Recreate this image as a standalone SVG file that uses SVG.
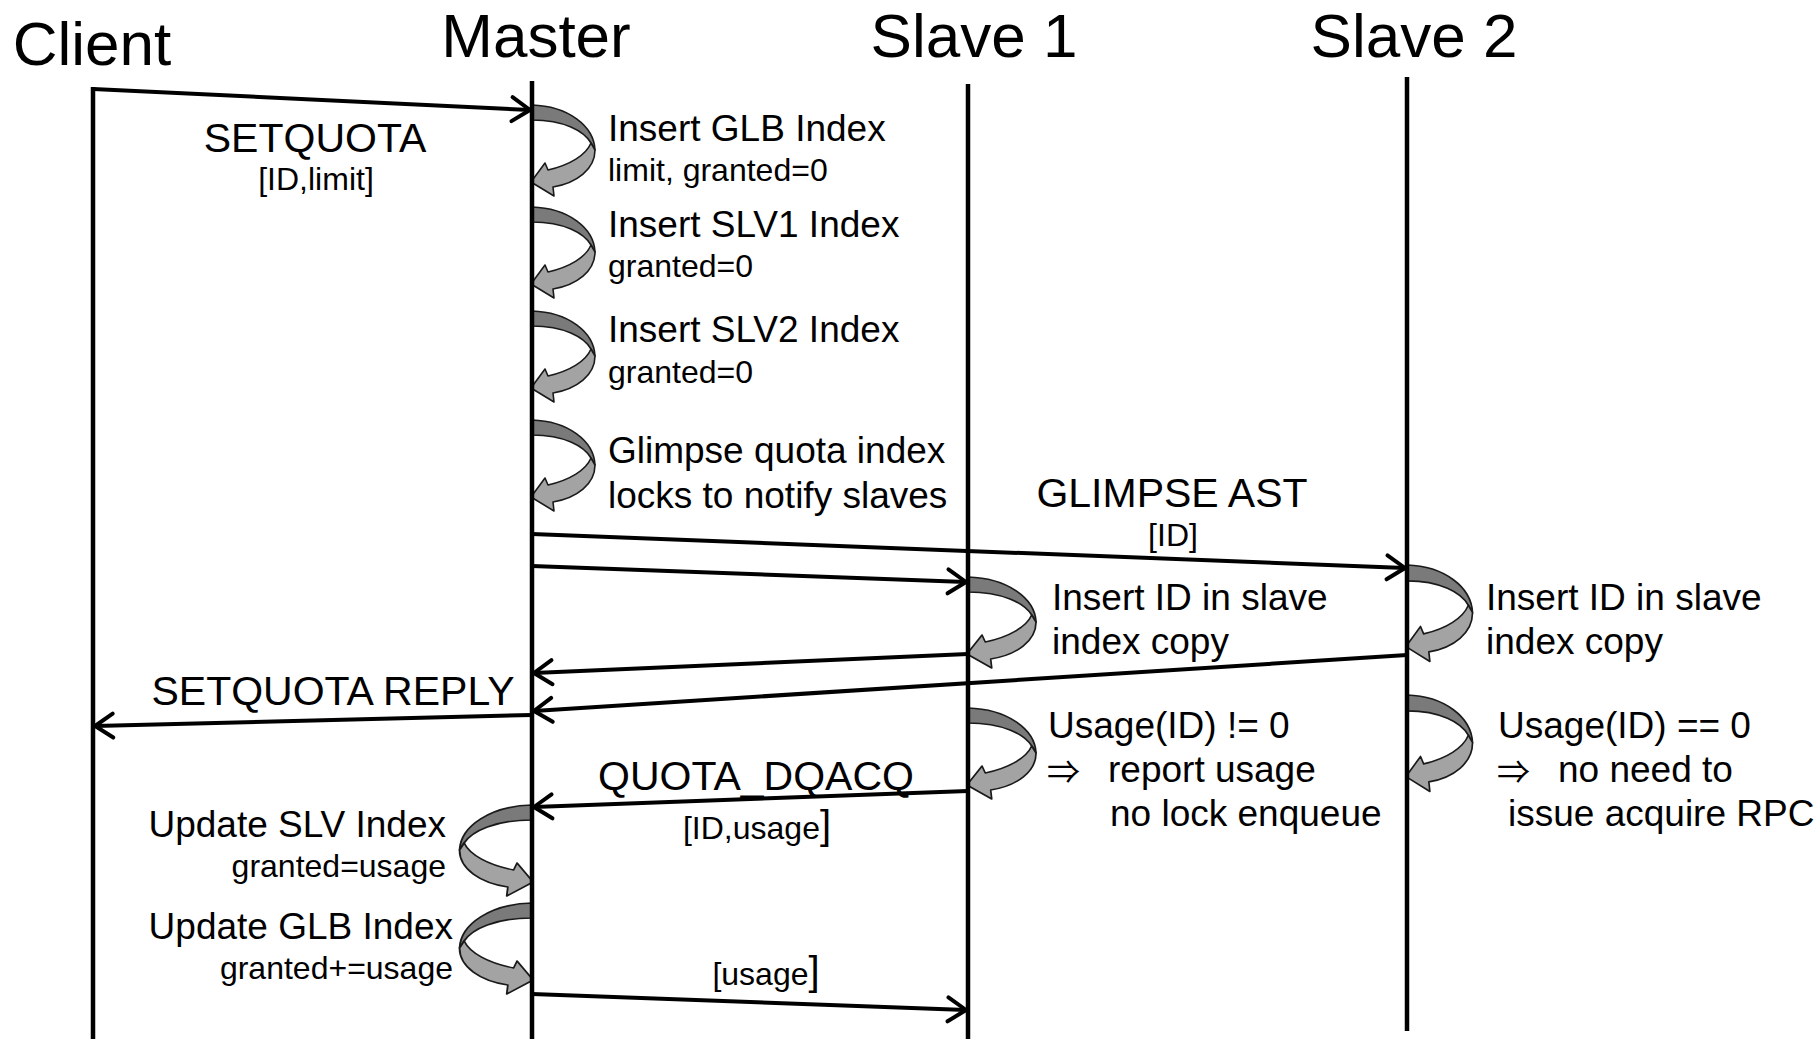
<svg xmlns="http://www.w3.org/2000/svg" width="1820" height="1039" viewBox="0 0 1820 1039">
  <style>
    text { font-family: "Liberation Sans", Arial, "DejaVu Sans", sans-serif; fill: #000; }
    .head { font-size: 62px; text-anchor: middle; }
    .msg { font-size: 41px; text-anchor: middle; }
    .arg { font-size: 32px; text-anchor: middle; }
    .note { font-size: 37px; }
    .sub { font-size: 32px; }
    .end { text-anchor: end; }
    .big { font-size: 40px; }
    .impl { font-family: "Noto Sans CJK JP", "DejaVu Sans", sans-serif; font-size: 33px; }
    .life { stroke: #000; stroke-width: 4.5; fill: none; }
    .call { stroke: #000; stroke-width: 4; fill: none; marker-end: url(#chev); }
    .back { fill: #7a7a7a; stroke: #1a1a1a; stroke-width: 1.6; stroke-linejoin: round; }
    .front { fill: #a3a3a3; stroke: #1a1a1a; stroke-width: 1.6; stroke-linejoin: round; }
  </style>
  <defs>
    <marker id="chev" markerUnits="userSpaceOnUse" markerWidth="30" markerHeight="30" viewBox="-22 -15 26 30" refX="0" refY="0" orient="auto" overflow="visible">
      <path d="M-18,-12 L0,0 L-18,12" fill="none" stroke="#000" stroke-width="4" stroke-linecap="round" stroke-linejoin="miter"/>
    </marker>
    <!-- self-call ribbon arrow: dark back band, lighter front band with head -->
    <g id="selfcall">
      <path class="back" d="M0,0 C36,1 62,21 63,45 L59,38 C52,26 32,15 0,15 Z"/>
      <path class="front" d="M63,45 C63,64 45,78 21,82 L22,91 L-1,77 L13,58 L16,65 C38,60 54,50 59,38 Z"/>
    </g>
  </defs>

  <!-- self-calls -->
  <g id="master-self">
    <use href="#selfcall" transform="translate(532,105)"/>
    <use href="#selfcall" transform="translate(532,207)"/>
    <use href="#selfcall" transform="translate(532,311)"/>
    <use href="#selfcall" transform="translate(532,420)"/>
    <use href="#selfcall" transform="translate(532,805) scale(-1.15,1)"/>
    <use href="#selfcall" transform="translate(532,903) scale(-1.15,1)"/>
  </g>
  <g id="slave1-self">
    <use href="#selfcall" transform="translate(968,577) scale(1.08,1)"/>
    <use href="#selfcall" transform="translate(968,708) scale(1.08,1)"/>
  </g>
  <g id="slave2-self">
    <use href="#selfcall" transform="translate(1407,565) scale(1.04,1.06)"/>
    <use href="#selfcall" transform="translate(1407,695) scale(1.04,1.06)"/>
  </g>

  <!-- lifelines -->
  <g id="client">
    <text class="head" x="92" y="65">Client</text>
    <line class="life" x1="93" y1="87" x2="93" y2="1039"/>
  </g>
  <g id="master">
    <text class="head" x="536" y="57">Master</text>
    <line class="life" x1="532" y1="81" x2="532" y2="1039"/>
  </g>
  <g id="slave1">
    <text class="head" x="974" y="57">Slave 1</text>
    <line class="life" x1="968" y1="84" x2="968" y2="1039"/>
  </g>
  <g id="slave2">
    <text class="head" x="1414" y="57">Slave 2</text>
    <line class="life" x1="1407" y1="77" x2="1407" y2="1031"/>
  </g>

  <!-- messages -->
  <g id="connectors">
    <line class="call" x1="93" y1="89" x2="530" y2="110"/>
    <line class="call" x1="532" y1="534" x2="1405" y2="568"/>
    <line class="call" x1="532" y1="566" x2="966" y2="582"/>
    <line class="call" x1="968" y1="654" x2="534" y2="673"/>
    <line class="call" x1="1407" y1="655" x2="534" y2="711"/>
    <line class="call" x1="532" y1="715" x2="95" y2="726"/>
    <line class="call" x1="968" y1="791" x2="534" y2="807"/>
    <line class="call" x1="532" y1="994" x2="966" y2="1010"/>
  </g>

  <!-- message labels -->
  <g id="labels">
    <text class="msg" x="315" y="152">SETQUOTA</text>
    <text class="arg" x="316" y="190">[ID,limit]</text>
    <text class="msg" x="1172" y="507">GLIMPSE AST</text>
    <text class="arg" x="1173" y="546">[ID]</text>
    <text class="msg" x="333" y="705">SETQUOTA REPLY</text>
    <text class="msg" x="756" y="790">QUOTA_DQACQ</text>
    <text class="arg" x="757" y="839">[ID,usage<tspan class="big">]</tspan></text>
    <text class="arg" x="766" y="985">[usage<tspan class="big">]</tspan></text>
  </g>

  <!-- master notes -->
  <g id="master-notes">
    <text class="note" x="608" y="141">Insert GLB Index</text>
    <text class="sub" x="608" y="181">limit, granted=0</text>
    <text class="note" x="608" y="237">Insert SLV1 Index</text>
    <text class="sub" x="608" y="277">granted=0</text>
    <text class="note" x="608" y="342">Insert SLV2 Index</text>
    <text class="sub" x="608" y="383">granted=0</text>
    <text class="note" x="608" y="463">Glimpse quota index</text>
    <text class="note" x="608" y="508">locks to notify slaves</text>
    <text class="note end" x="446" y="837">Update SLV Index</text>
    <text class="sub end" x="446" y="877">granted=usage</text>
    <text class="note end" x="453" y="939">Update GLB Index</text>
    <text class="sub end" x="453" y="979">granted+=usage</text>
  </g>

  <!-- slave notes -->
  <g id="slave1-notes">
    <text class="note" x="1052" y="610">Insert ID in slave</text>
    <text class="note" x="1052" y="654">index copy</text>
    <text class="note" x="1048" y="738">Usage(ID) != 0</text>
    <text class="impl" x="1047" y="784">⇒</text>
    <text class="note" x="1108" y="782">report usage</text>
    <text class="note" x="1110" y="826">no lock enqueue</text>
  </g>
  <g id="slave2-notes">
    <text class="note" x="1486" y="610">Insert ID in slave</text>
    <text class="note" x="1486" y="654">index copy</text>
    <text class="note" x="1498" y="738">Usage(ID) == 0</text>
    <text class="impl" x="1497" y="784">⇒</text>
    <text class="note" x="1558" y="782">no need to</text>
    <text class="note" x="1508" y="826">issue acquire RPC</text>
  </g>
</svg>
